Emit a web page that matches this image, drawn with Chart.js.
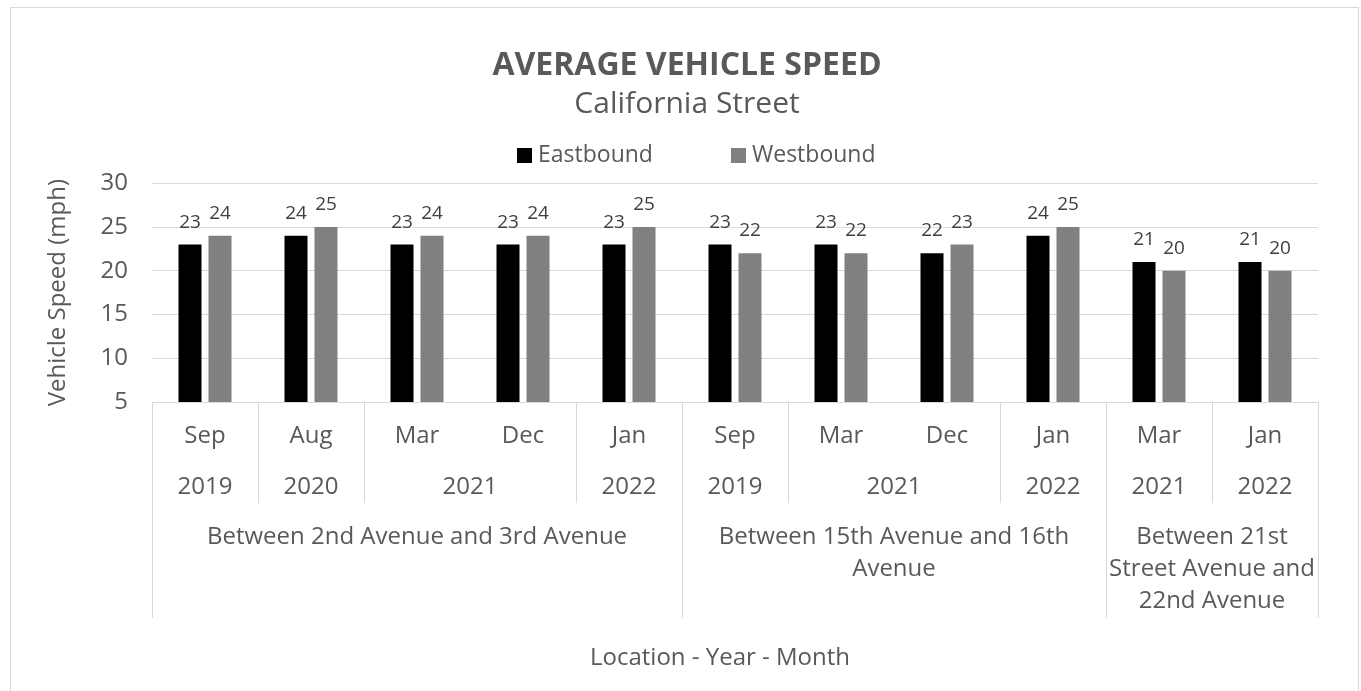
<!DOCTYPE html>
<html>
<head>
<meta charset="utf-8">
<script src="https://cdn.jsdelivr.net/npm/chart.js@4.4.0/dist/chart.umd.min.js"></script>
<style>
    html, body { margin: 0; padding: 0; background: #fff; }
    #wrap { width: 1361px; height: 691px; position: relative; }
</style>
</head>
<body>
<div id="wrap"><canvas id="speed-chart"></canvas></div>
<script>
// Sample Data
const months = ["Sep", "Aug", "Mar", "Dec", "Jan", "Sep", "Mar", "Dec", "Jan", "Mar", "Jan"];
const years = ["2019", "2020", "2021", "2021", "2022", "2019", "2021", "2021", "2022", "2021", "2022"];
const locations = [
    "Between 2nd Avenue and 3rd Avenue", "Between 2nd Avenue and 3rd Avenue", "Between 2nd Avenue and 3rd Avenue",
    "Between 2nd Avenue and 3rd Avenue", "Between 2nd Avenue and 3rd Avenue",
    "Between 15th Avenue and 16th Avenue", "Between 15th Avenue and 16th Avenue",
    "Between 15th Avenue and 16th Avenue", "Between 15th Avenue and 16th Avenue",
    "Between 21st Street Avenue and 22nd Avenue", "Between 21st Street Avenue and 22nd Avenue"
];
const eastbound = [23, 24, 23, 23, 23, 23, 23, 22, 24, 21, 21];
const westbound = [24, 25, 24, 24, 25, 22, 22, 23, 25, 20, 20];
const yTicks = [5, 10, 15, 20, 25, 30];

const FONT = "'Open Sans', 'Noto Sans', sans-serif";
const TEXT = "#595959";
const LINE = "#d9d9d9";

// group consecutive equal values, optionally broken by a parent array
function groups(arr, parent) {
    const out = [];
    arr.forEach((v, i) => {
        const last = out[out.length - 1];
        if (last && last.label === v && (!parent || parent[i] === parent[last.from])) last.to = i;
        else out.push({ label: v, from: i, to: i });
    });
    return out;
}

function wrapText(ctx, text, maxW) {
    const words = text.split(" ");
    const lines = [];
    let cur = "";
    words.forEach(w => {
        const test = cur ? cur + " " + w : w;
        if (ctx.measureText(test).width > maxW && cur) { lines.push(cur); cur = w; }
        else cur = test;
    });
    if (cur) lines.push(cur);
    return lines;
}

// border + background
const frame = {
    id: "frame",
    beforeDraw(chart) {
        const c = chart.ctx;
        c.save();
        c.fillStyle = "#fff";
        c.fillRect(0, 0, chart.width, chart.height);
        c.strokeStyle = LINE;
        c.lineWidth = 1;
        c.strokeRect(10.5, 7.5, 1348, 720);
        c.restore();
    }
};

// legend drawn by hand so the item spacing matches
const legendBoxes = {
    id: "legendBoxes",
    afterDraw(chart) {
        const c = chart.ctx;
        const items = [{ x: 517, ds: 0 }, { x: 731, ds: 1 }];
        c.save();
        c.font = "23px " + FONT;
        c.textBaseline = "middle";
        items.forEach(it => {
            const ds = chart.data.datasets[it.ds];
            c.fillStyle = ds.backgroundColor;
            c.fillRect(it.x, 148, 15, 15);
            c.fillStyle = TEXT;
            c.fillText(ds.label, it.x + 21, 155);
        });
        c.restore();
    }
};

// value labels above bars
const valueLabels = {
    id: "valueLabels",
    afterDatasetsDraw(chart) {
        const c = chart.ctx;
        c.save();
        c.font = "19px " + FONT;
        c.fillStyle = "#404040";
        c.textAlign = "center";
        c.textBaseline = "alphabetic";
        chart.data.datasets.forEach((ds, di) => {
            chart.getDatasetMeta(di).data.forEach((bar, i) => {
                c.fillText(ds.data[i], bar.x, bar.y - 17);
            });
        });
        c.restore();
    }
};

// three-level category axis
const multiAxis = {
    id: "multiAxis",
    afterDraw(chart) {
        const c = chart.ctx;
        const x = chart.scales.x;
        const area = chart.chartArea;
        const n = months.length;
        const step = (x.getPixelForValue(1) - x.getPixelForValue(0));
        const edge = i => x.getPixelForValue(0) - step / 2 + i * step;
        const base = area.bottom;
        const rowMonth = base + 34, rowYear = base + 85, yearBottom = base + 101, locBottom = base + 216;

        c.save();
        c.strokeStyle = LINE;
        c.lineWidth = 1;
        for (let i = 0; i <= n; i++) {
            let bottom = null;
            if (i === 0 || i === n || locations[i] !== locations[i - 1]) bottom = locBottom;
            else if (years[i] !== years[i - 1]) bottom = yearBottom;
            if (bottom === null) continue;
            const px = Math.round(edge(i)) + 0.5;
            c.beginPath();
            c.moveTo(px, base);
            c.lineTo(px, bottom);
            c.stroke();
        }

        c.fillStyle = TEXT;
        c.font = "24px " + FONT;
        c.textAlign = "center";
        c.textBaseline = "middle";
        months.forEach((m, i) => c.fillText(m, x.getPixelForValue(i), rowMonth));
        groups(years, locations).forEach(g => {
            c.fillText(g.label, (edge(g.from) + edge(g.to + 1)) / 2, rowYear);
        });
        groups(locations).forEach(g => {
            const w = edge(g.to + 1) - edge(g.from);
            const lines = wrapText(c, g.label, w - 2);
            lines.forEach((ln, k) => c.fillText(ln, (edge(g.from) + edge(g.to + 1)) / 2, base + 135 + k * 32));
        });

        // axis title sits a little left of the plot centre in the original
        c.fillText("Location - Year - Month", (area.left + area.right) / 2 - 15, base + 256);
        c.restore();
    }
};

const ctx = document.getElementById("speed-chart").getContext("2d");
const speedChart = new Chart(ctx, {
    type: "bar",
    data: {
        labels: months,
        datasets: [
            { label: "Eastbound", data: eastbound, backgroundColor: "#000000" },
            { label: "Westbound", data: westbound, backgroundColor: "#808080" }
        ]
    },
    options: {
        responsive: true,
        maintainAspectRatio: false,
        animation: false,
        datasets: { bar: { categoryPercentage: 0.566, barPercentage: 0.767 } },
        layout: { padding: { left: 56, right: 43, top: 0, bottom: 289 } },
        plugins: {
            legend: { display: false },
            tooltip: { enabled: false },
            title: {
                display: true,
                text: "AVERAGE VEHICLE SPEED",
                color: TEXT,
                font: { family: FONT, size: 32, weight: "bold", lineHeight: 1.2 },
                padding: { top: 47, bottom: 1 }
            },
            subtitle: {
                display: true,
                text: "California Street",
                color: TEXT,
                font: { family: FONT, size: 30, lineHeight: 1.2 },
                padding: { top: 0, bottom: 61 }
            }
        },
        scales: {
            x: { display: false },
            y: {
                min: 5,
                max: 30,
                afterBuildTicks(scale) { scale.ticks = yTicks.map(v => ({ value: v })); },
                afterFit(scale) { scale.width = 96; },
                grid: { color: LINE, lineWidth: 1, drawTicks: false },
                border: { display: false },
                ticks: { color: TEXT, font: { family: FONT, size: 24 }, padding: 24 },
                title: {
                    display: true,
                    text: "Vehicle Speed (mph)",
                    color: TEXT,
                    font: { family: FONT, size: 24, lineHeight: 1.2 },
                    padding: { top: -12, bottom: 4 }
                }
            }
        }
    },
    plugins: [frame, legendBoxes, valueLabels, multiAxis]
});
</script>
</body>
</html>
